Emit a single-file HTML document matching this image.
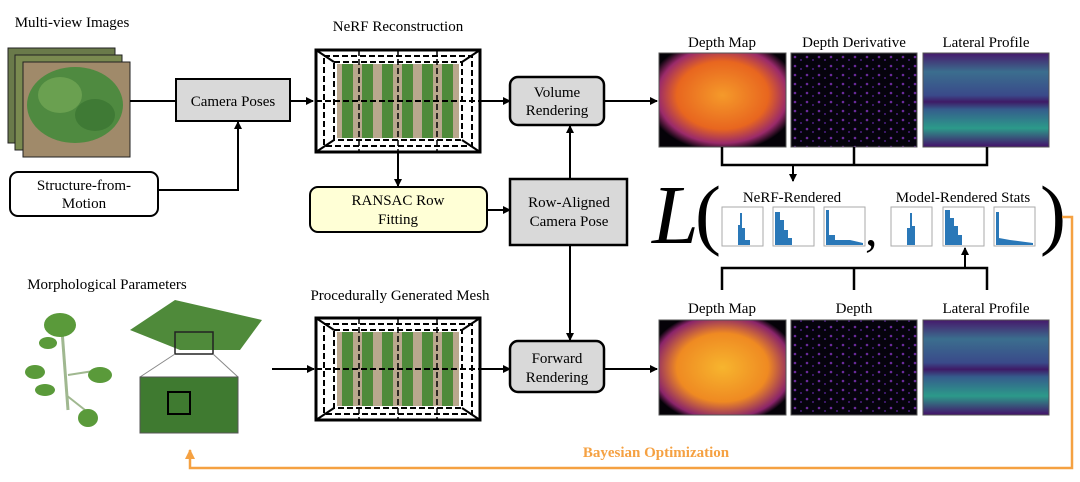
<!DOCTYPE html>
<html><head><meta charset="utf-8"><style>
html,body{margin:0;padding:0;background:#fff;}
svg{display:block;font-family:"Liberation Serif",serif;}
</style></head><body>
<svg width="1080" height="482" viewBox="0 0 1080 482" xmlns="http://www.w3.org/2000/svg">
<defs>
<marker id="ah" markerWidth="8" markerHeight="8" refX="7" refY="4" orient="auto" markerUnits="userSpaceOnUse"><path d="M0,0 L8,4 L0,8 z" fill="#000"/></marker>
<marker id="aho" markerWidth="10" markerHeight="10" refX="9" refY="5" orient="auto" markerUnits="userSpaceOnUse"><path d="M0,0 L10,5 L0,10 z" fill="#f5a142"/></marker>
<linearGradient id="lat" x1="0" y1="0" x2="0" y2="1">
<stop offset="0" stop-color="#46196b"/><stop offset="0.2" stop-color="#3b6e8e"/><stop offset="0.45" stop-color="#3a4a8a"/><stop offset="0.52" stop-color="#3e1a66"/><stop offset="0.6" stop-color="#355d8c"/><stop offset="0.8" stop-color="#2c9a8a"/><stop offset="1" stop-color="#44106a"/></linearGradient>
<radialGradient id="dm" cx="0.5" cy="0.45" r="0.6"><stop offset="0" stop-color="#f59a2a"/><stop offset="0.6" stop-color="#e8661f"/><stop offset="0.85" stop-color="#9a2a6a"/><stop offset="1" stop-color="#050208"/></radialGradient>
<radialGradient id="dm2" cx="0.5" cy="0.5" r="0.6"><stop offset="0" stop-color="#f7b52e"/><stop offset="0.6" stop-color="#ef8a22"/><stop offset="0.9" stop-color="#8a246a"/><stop offset="1" stop-color="#050208"/></radialGradient>
<pattern id="rows" width="20" height="10" patternUnits="userSpaceOnUse"><rect width="20" height="10" fill="#b9a88e"/><rect x="2" width="11" height="10" fill="#4f8a3a"/></pattern>
<pattern id="ddp" width="12" height="9" patternUnits="userSpaceOnUse"><rect width="12" height="9" fill="#05030c"/><circle cx="3" cy="3" r="1.3" fill="#6a2a9a"/><circle cx="9" cy="6" r="1" fill="#4a1f80"/></pattern>
</defs>

<!-- Multi-view images -->
<text x="72" y="27" font-size="15" text-anchor="middle">Multi-view Images</text>
<rect x="8" y="48" width="107" height="95" fill="#6a7a4a" stroke="#222"/>
<rect x="15" y="55" width="107" height="95" fill="#7a8a50" stroke="#222"/>
<rect x="23" y="62" width="107" height="95" fill="#a08a6a" stroke="#222"/>
<ellipse cx="75" cy="105" rx="48" ry="38" fill="#4f8a40"/>
<ellipse cx="60" cy="95" rx="22" ry="18" fill="#6aa050"/>
<ellipse cx="95" cy="115" rx="20" ry="16" fill="#3f7a35"/>

<!-- Camera poses -->
<line x1="130" y1="101" x2="176" y2="101" stroke="#000" stroke-width="2"/>
<rect x="176" y="79" width="114" height="42" fill="#d9d9d9" stroke="#000" stroke-width="2"/>
<text x="233" y="106" font-size="15" text-anchor="middle">Camera Poses</text>
<line x1="290" y1="101" x2="313" y2="101" stroke="#000" stroke-width="2" marker-end="url(#ah)"/>

<!-- SfM -->
<rect x="10" y="172" width="148" height="44" rx="8" fill="#fff" stroke="#000" stroke-width="2"/>
<text x="84" y="190" font-size="15" text-anchor="middle">Structure-from-</text>
<text x="84" y="208" font-size="15" text-anchor="middle">Motion</text>
<polyline points="158,190 238,190 238,122" fill="none" stroke="#000" stroke-width="2" marker-end="url(#ah)"/>

<!-- NeRF box -->
<text x="398" y="31" font-size="15" text-anchor="middle">NeRF Reconstruction</text>
<g>
<rect x="316" y="50" width="164" height="102" fill="#fff" stroke="#000" stroke-width="3"/>
<rect x="337" y="64" width="122" height="74" fill="url(#rows)"/>
<rect x="324" y="56" width="148" height="90" fill="none" stroke="#000" stroke-width="2" stroke-dasharray="6,3"/>
<rect x="334" y="62" width="128" height="78" fill="none" stroke="#000" stroke-width="2" stroke-dasharray="6,3"/>
<line x1="316" y1="50" x2="334" y2="62" stroke="#000" stroke-width="2"/><line x1="480" y1="50" x2="462" y2="62" stroke="#000" stroke-width="2"/>
<line x1="316" y1="152" x2="334" y2="140" stroke="#000" stroke-width="2"/><line x1="480" y1="152" x2="462" y2="140" stroke="#000" stroke-width="2"/>
<line x1="316" y1="101" x2="480" y2="101" stroke="#000" stroke-width="2" stroke-dasharray="6,3"/>
<line x1="359" y1="50" x2="359" y2="152" stroke="#000" stroke-width="1.5" stroke-dasharray="6,3"/>
<line x1="398" y1="50" x2="398" y2="152" stroke="#000" stroke-width="1.5" stroke-dasharray="6,3"/>
<line x1="437" y1="50" x2="437" y2="152" stroke="#000" stroke-width="1.5" stroke-dasharray="6,3"/>
</g>
<line x1="480" y1="101" x2="510" y2="101" stroke="#000" stroke-width="2" marker-end="url(#ah)"/>
<line x1="398" y1="152" x2="398" y2="186" stroke="#000" stroke-width="2" marker-end="url(#ah)"/>

<!-- Volume rendering -->
<rect x="510" y="77" width="94" height="48" rx="8" fill="#d9d9d9" stroke="#000" stroke-width="2.5"/>
<text x="557" y="97" font-size="15" text-anchor="middle">Volume</text>
<text x="557" y="115" font-size="15" text-anchor="middle">Rendering</text>
<line x1="604" y1="101" x2="657" y2="101" stroke="#000" stroke-width="2" marker-end="url(#ah)"/>

<!-- RANSAC -->
<rect x="310" y="187" width="177" height="45" rx="8" fill="#ffffd6" stroke="#000" stroke-width="2"/>
<text x="398" y="205" font-size="15" text-anchor="middle">RANSAC Row</text>
<text x="398" y="224" font-size="15" text-anchor="middle">Fitting</text>
<line x1="487" y1="210" x2="510" y2="210" stroke="#000" stroke-width="2" marker-end="url(#ah)"/>

<!-- Row aligned -->
<rect x="510" y="179" width="117" height="66" fill="#d9d9d9" stroke="#000" stroke-width="2.5"/>
<text x="569" y="207" font-size="15" text-anchor="middle">Row-Aligned</text>
<text x="569" y="226" font-size="15" text-anchor="middle">Camera Pose</text>
<line x1="570" y1="179" x2="570" y2="126" stroke="#000" stroke-width="2" marker-end="url(#ah)"/>
<line x1="570" y1="245" x2="570" y2="340" stroke="#000" stroke-width="2" marker-end="url(#ah)"/>

<!-- Forward rendering -->
<rect x="510" y="341" width="94" height="51" rx="8" fill="#d9d9d9" stroke="#000" stroke-width="2.5"/>
<text x="557" y="363" font-size="15" text-anchor="middle">Forward</text>
<text x="557" y="382" font-size="15" text-anchor="middle">Rendering</text>
<line x1="604" y1="369" x2="657" y2="369" stroke="#000" stroke-width="2" marker-end="url(#ah)"/>

<!-- Morphological -->
<text x="107" y="289" font-size="15" text-anchor="middle">Morphological Parameters</text>
<g fill="#5a9a3a">
<line x1="62" y1="330" x2="68" y2="410" stroke="#a0b890" stroke-width="3"/>
<line x1="68" y1="375" x2="100" y2="370" stroke="#a0b890" stroke-width="2"/>
<line x1="66" y1="395" x2="85" y2="410" stroke="#a0b890" stroke-width="2"/>
<ellipse cx="60" cy="325" rx="16" ry="12"/><ellipse cx="48" cy="343" rx="9" ry="6"/>
<ellipse cx="35" cy="372" rx="10" ry="7"/><ellipse cx="100" cy="375" rx="12" ry="8"/>
<ellipse cx="45" cy="390" rx="10" ry="6"/><ellipse cx="88" cy="418" rx="10" ry="9"/>
</g>
<polygon points="130,330 175,300 262,320 240,350 180,350" fill="#4f8a3a"/>
<rect x="175" y="332" width="38" height="22" fill="none" stroke="#222" stroke-width="1.5"/>
<line x1="175" y1="354" x2="140" y2="377" stroke="#888"/><line x1="213" y1="354" x2="238" y2="377" stroke="#888"/>
<rect x="140" y="377" width="98" height="56" fill="#3f7a30" stroke="#555"/>
<rect x="168" y="392" width="22" height="22" fill="none" stroke="#000" stroke-width="2"/>
<line x1="272" y1="369" x2="314" y2="369" stroke="#000" stroke-width="2" marker-end="url(#ah)"/>

<!-- Mesh -->
<text x="400" y="300" font-size="15" text-anchor="middle">Procedurally Generated Mesh</text>
<g>
<rect x="316" y="318" width="164" height="102" fill="#fff" stroke="#000" stroke-width="3"/>
<rect x="337" y="332" width="122" height="74" fill="url(#rows)"/>
<rect x="324" y="324" width="148" height="90" fill="none" stroke="#000" stroke-width="2" stroke-dasharray="6,3"/>
<rect x="334" y="330" width="128" height="78" fill="none" stroke="#000" stroke-width="2" stroke-dasharray="6,3"/>
<line x1="316" y1="318" x2="334" y2="330" stroke="#000" stroke-width="2"/><line x1="480" y1="318" x2="462" y2="330" stroke="#000" stroke-width="2"/>
<line x1="316" y1="420" x2="334" y2="408" stroke="#000" stroke-width="2"/><line x1="480" y1="420" x2="462" y2="408" stroke="#000" stroke-width="2"/>
<line x1="316" y1="369" x2="480" y2="369" stroke="#000" stroke-width="2" stroke-dasharray="6,3"/>
<line x1="359" y1="318" x2="359" y2="420" stroke="#000" stroke-width="1.5" stroke-dasharray="6,3"/>
<line x1="398" y1="318" x2="398" y2="420" stroke="#000" stroke-width="1.5" stroke-dasharray="6,3"/>
<line x1="437" y1="318" x2="437" y2="420" stroke="#000" stroke-width="1.5" stroke-dasharray="6,3"/>
</g>
<line x1="480" y1="369" x2="510" y2="369" stroke="#000" stroke-width="2" marker-end="url(#ah)"/>

<!-- Top rendered images -->
<text x="722" y="47" font-size="15" text-anchor="middle">Depth Map</text>
<text x="854" y="47" font-size="15" text-anchor="middle">Depth Derivative</text>
<text x="986" y="47" font-size="15" text-anchor="middle">Lateral Profile</text>
<rect x="659" y="53" width="127" height="94" fill="url(#dm)" stroke="#555"/>
<rect x="791" y="53" width="126" height="94" fill="url(#ddp)" stroke="#555"/>
<rect x="923" y="53" width="126" height="94" fill="url(#lat)" stroke="#555"/>

<!-- Top bracket -->
<polyline points="722,147 722,165 987,165 987,147" fill="none" stroke="#000" stroke-width="2.5"/>
<line x1="854" y1="147" x2="854" y2="165" stroke="#000" stroke-width="2.5"/>
<line x1="793" y1="165" x2="793" y2="181" stroke="#000" stroke-width="2" marker-end="url(#ah)"/>

<!-- Loss -->
<text x="652" y="243" font-size="84" font-style="italic">L</text>
<text x="695" y="240" font-size="78">(</text>
<text x="1040" y="240" font-size="78">)</text>
<text x="865" y="245" font-size="50">,</text>
<text x="792" y="202" font-size="15" text-anchor="middle">NeRF-Rendered</text>
<text x="963" y="202" font-size="15" text-anchor="middle">Model-Rendered Stats</text>
<g stroke="#aaa" fill="#fff">
<rect x="722" y="207" width="41" height="39"/><rect x="773" y="207" width="41" height="39"/><rect x="824" y="207" width="41" height="39"/>
<rect x="891" y="207" width="41" height="39"/><rect x="943" y="207" width="41" height="39"/><rect x="994" y="207" width="41" height="39"/>
</g>
<g fill="#2a78b8">
<path d="M738,245 L738,225 L740,225 L740,213 L742,213 L742,228 L745,228 L745,240 L750,240 L750,245z"/>
<path d="M775,245 L775,212 L780,212 L780,220 L784,220 L784,230 L788,230 L788,238 L792,238 L792,245z"/>
<path d="M826,245 L826,210 L829,210 L829,235 L835,235 L835,240 L850,240 L863,243 L863,245z"/>
<path d="M907,245 L907,228 L910,228 L910,213 L912,213 L912,226 L915,226 L915,245z"/>
<path d="M945,245 L945,210 L950,210 L950,218 L954,218 L954,226 L958,226 L958,235 L962,235 L962,245z"/>
<path d="M996,245 L996,212 L999,212 L999,238 L1010,240 L1033,243 L1033,245z"/>
</g>

<!-- Bottom bracket -->
<polyline points="722,290 722,268 987,268 987,290" fill="none" stroke="#000" stroke-width="2.5"/>
<line x1="854" y1="268" x2="854" y2="290" stroke="#000" stroke-width="2.5"/>
<line x1="965" y1="268" x2="965" y2="248" stroke="#000" stroke-width="2" marker-end="url(#ah)"/>

<!-- Bottom images -->
<text x="722" y="313" font-size="15" text-anchor="middle">Depth Map</text>
<text x="854" y="313" font-size="15" text-anchor="middle">Depth</text>
<text x="986" y="313" font-size="15" text-anchor="middle">Lateral Profile</text>
<rect x="659" y="320" width="127" height="95" fill="url(#dm2)" stroke="#555"/>
<rect x="791" y="320" width="126" height="95" fill="url(#ddp)" stroke="#555"/>
<rect x="923" y="320" width="126" height="95" fill="url(#lat)" stroke="#555"/>

<!-- Bayesian optimization -->
<polyline points="1062,217 1072,217 1072,468 190,468 190,450" fill="none" stroke="#f5a142" stroke-width="2.5" marker-end="url(#aho)"/>
<text x="656" y="457" font-size="15" font-weight="bold" fill="#f5a142" text-anchor="middle">Bayesian Optimization</text>
</svg>
</body></html>
